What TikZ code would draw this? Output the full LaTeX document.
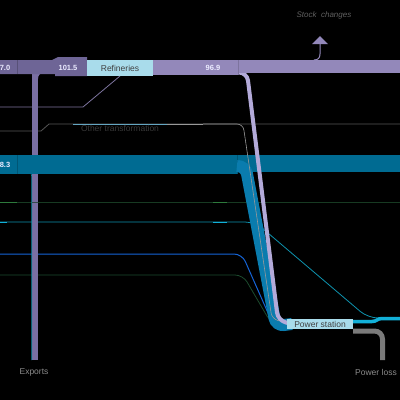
\documentclass[tikz,border=0pt]{standalone}
\usepackage{fontspec}
\setmainfont{Liberation Sans}
\definecolor{bandL}{HTML}{6E6596}
\definecolor{bandR}{HTML}{9388BA}
\definecolor{lav}{HTML}{B3AAD9}
\definecolor{expo}{HTML}{7A6FA3}
\definecolor{tealband}{HTML}{006B92}
\definecolor{tealflow}{HTML}{0A7CAE}
\definecolor{boxblue}{HTML}{A9DCEB}
\definecolor{cyanl}{HTML}{0E92AE}
\definecolor{cyanb}{HTML}{12B0D8}
\definecolor{bluel}{HTML}{1565D8}
\definecolor{greenl}{HTML}{1C4A2E}
\definecolor{dgreen}{HTML}{173A22}
\definecolor{bgreen}{HTML}{2D7A3C}
\definecolor{lossgray}{HTML}{7A7A7A}
\definecolor{otgray}{HTML}{555555}
\tikzset{
  boxlabel/.style={fill=boxblue, inner sep=0pt, text=black!75, font=\fontsize{8.5}{9}\selectfont},
  val/.style={text=white!92!blue, font=\fontsize{7.5}{8}\selectfont\bfseries, inner sep=0pt},
  dimlabel/.style={text=black!45!white, font=\fontsize{8.5}{9}\selectfont, inner sep=0pt},
  thin/.style={line width=0.8pt},
}
\begin{document}
\begin{tikzpicture}[x=1pt,y=-1pt]
\fill[black] (0,0) rectangle (400,400);
\useasboundingbox (0,0) rectangle (400,400);

\coordinate (psin) at (292,324);

% thin horizontal streams
\draw[dgreen, line width=1pt] (0,202) -- (400,202);
\draw[bgreen, line width=1pt] (0,202) -- (17,202);
\draw[bgreen, line width=1pt] (213,202) -- (227,202);
\draw[greenl, thin, rounded corners=8] (0,275) -- (243,275) -- (271,323) -- (psin);
\draw[bluel, line width=1pt, rounded corners=8] (0,254) -- (242,254) -- (272,322) -- (psin);
\draw[cyanl, thin, rounded corners=10] (0,222) -- (255,222) -- (368,318) -- (400,318);
\draw[cyanb, line width=1pt] (0,222) -- (7,222);
\draw[cyanb, line width=1pt] (213,222) -- (227,222);

% other transformation line
\draw[otgray, thin] (0,131) -- (41,131) -- (49,124) -- (400,124);
\draw[cyan!50!gray, thin] (73,124) -- (167,124);
\draw[black!40!white, thin] (167,124) -- (203,124);
\node[dimlabel, text=black!78!white, anchor=north] (ot) at (120,124.8) {Other transformation};

% purple thin line from refineries
\draw[bandR!85!black, thin] (120,76) -- (83,107) -- (0,107);

% exports bar
\fill[expo] (32,72) rectangle (38,360);
\fill[expo] (38,73) -- (44,73) .. controls (40,73) and (38,75) .. (38,79) -- cycle;
\draw[cyanl, line width=0.6pt] (27,172) .. controls (31.7,172) and (31.7,174) .. (31.7,180) -- (31.7,360);
\node[dimlabel, text=black!45!white] (exports) at (34,372) {Exports};

% teal band
\fill[tealband] (0,155) rectangle (400,172);
\fill[tealband] (0,172) rectangle (237,174);
\draw[tealband!80!black, line width=0.4pt] (17,155) -- (17,174);
\draw[tealband!80!black, line width=0.4pt] (237,155) -- (237,174);
\node[val] (v83) at (5,164.5) {8.3};

\draw[dgreen!70!expo, line width=1pt] (32,202) -- (38,202);

% descending flows
\draw[tealflow, line width=12pt, rounded corners=8] (238,166) -- (245.5,166) -- (276,326) -- (psin);
\draw[black!40!white, line width=0.6pt, rounded corners=6] (203,124) -- (243,124) -- (272,319) -- (psin);
\draw[lav, line width=4pt, rounded corners=8] (228,72.5) -- (247,72.5) -- (278,320.5) -- (psin);

% top band
\fill[bandL] (0,60) -- (52,60) .. controls (55,60) and (55,57) .. (58,57) -- (87,57) -- (87,76) -- (55,76) -- (55,74) -- (0,74) -- cycle;
\draw[bandL!80!black, line width=0.4pt] (17,60) -- (17,74);
\fill[bandR] (153,60) rectangle (400,73);
\fill[bandR] (153,73) rectangle (238,75);
\draw[bandR!85!black, line width=0.4pt] (238,60) -- (238,75);
\node[boxlabel, minimum width=66pt, minimum height=16pt] (ref) at (120,68) {Refineries};
\node[val] (v70) at (5,67.5) {7.0};
\node[val] (v1015) at (68,67.5) {101.5};
\node[val] (v969) at (213,67.5) {96.9};

% stock changes
\coordinate (stk) at (314,60);
\fill[bandR] (312,44) -- (320,36) -- (328,44) -- cycle;
\draw[bandR, line width=1pt] (320,44) -- (320,54) .. controls (320,58) and (318,60) .. (stk);
\node[dimlabel, text=black!62!white, font=\fontsize{8}{9}\selectfont\itshape] (sc) at (324,15) {Stock\ \ changes};

% power station and outputs
\draw[cyanb, line width=3.5pt] (353,321.5) -- (372,321.5) .. controls (377,321.5) and (377,318.5) .. (382,318.5) -- (400,318.5);
\draw[lossgray, line width=5pt, rounded corners=8] (353,331) -- (382.5,331) -- (382.5,360);
\node[boxlabel, minimum width=66pt, minimum height=10pt] (ps) at (320,324) {Power station};
\node[dimlabel, anchor=west] (loss) at (355,372) {Power loss};
\end{tikzpicture}
\end{document}
